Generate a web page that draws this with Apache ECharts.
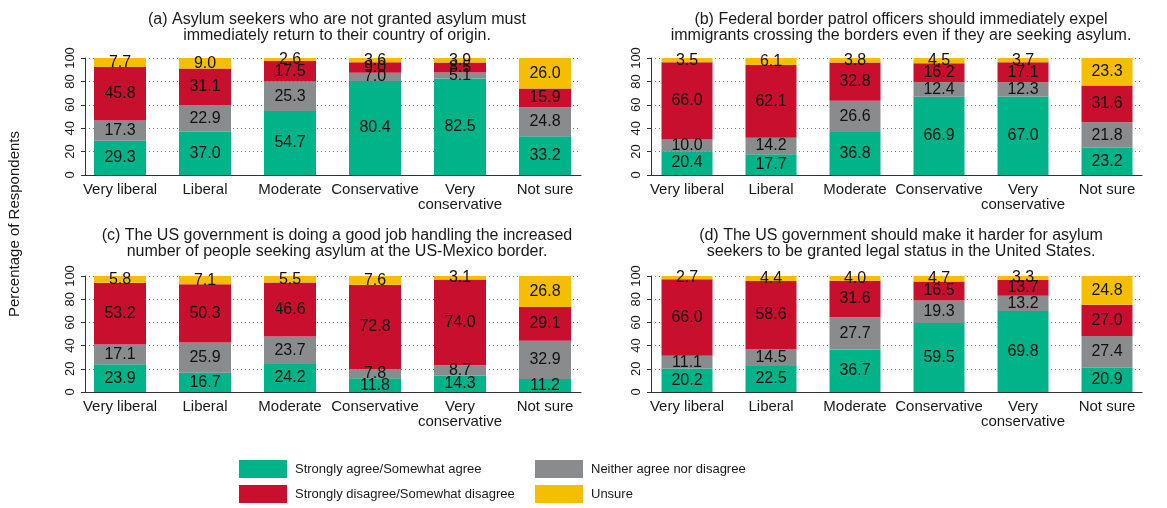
<!DOCTYPE html>
<html>
<head>
<meta charset="utf-8">
<script src="https://cdn.jsdelivr.net/npm/echarts@6/dist/echarts.min.js"></script>
<style>html,body{margin:0;padding:0;background:#fff}#c{width:1167px;height:508px}</style>
</head>
<body>
<div id="c"></div>
<script>
const categories = ['Very liberal','Liberal','Moderate','Conservative','Very\nconservative','Not sure'];
const seriesNames = ['Strongly agree/Somewhat agree','Neither agree nor disagree','Strongly disagree/Somewhat disagree','Unsure'];
const colors = ['#00B388','#898B8D','#C8102E','#F5BE00'];
const yTicks = [0,20,40,60,80,100];

const titleA = '(a) Asylum seekers who are not granted asylum must\nimmediately return to their country of origin.';
const agreeA    = [29.3,37.0,54.7,80.4,82.5,33.2];
const neitherA  = [17.3,22.9,25.3,7.0,5.1,24.8];
const disagreeA = [45.8,31.1,17.5,9.0,8.5,15.9];
const unsureA   = [7.7,9.0,2.6,3.6,3.9,26.0];

const titleB = '(b) Federal border patrol officers should immediately expel\nimmigrants crossing the borders even if they are seeking asylum.';
const agreeB    = [20.4,17.7,36.8,66.9,67.0,23.2];
const neitherB  = [10.0,14.2,26.6,12.4,12.3,21.8];
const disagreeB = [66.0,62.1,32.8,16.2,17.1,31.6];
const unsureB   = [3.5,6.1,3.8,4.5,3.7,23.3];

const titleC = '(c) The US government is doing a good job handling the increased\nnumber of people seeking asylum at the US-Mexico border.';
const agreeC    = [23.9,16.7,24.2,11.8,14.3,11.2];
const neitherC  = [17.1,25.9,23.7,7.8,8.7,32.9];
const disagreeC = [53.2,50.3,46.6,72.8,74.0,29.1];
const unsureC   = [5.8,7.1,5.5,7.6,3.1,26.8];

const titleD = '(d) The US government should make it harder for asylum\nseekers to be granted legal status in the United States.';
const agreeD    = [20.2,22.5,36.7,59.5,69.8,20.9];
const neitherD  = [11.1,14.5,27.7,19.3,13.2,27.4];
const disagreeD = [66.0,58.6,31.6,16.5,13.7,27.0];
const unsureD   = [2.7,4.4,4.0,4.7,3.3,24.8];

const FONT = '"Liberation Sans", Arial, Helvetica, sans-serif';

const panels = [
  {title:titleA, data:[agreeA,neitherA,disagreeA,unsureA], axL:85, axR:581, c0:120, step:85, top:58, h:117, bw:52, tTop:7, tX:332},
  {title:titleB, data:[agreeB,neitherB,disagreeB,unsureB], axL:651, axR:1142, c0:687, step:84, top:58, h:117, bw:51, tTop:7, tX:896},
  {title:titleC, data:[agreeC,neitherC,disagreeC,unsureC], axL:85, axR:581, c0:120, step:85, top:276, h:116, bw:52, tTop:223, tX:332},
  {title:titleD, data:[agreeD,neitherD,disagreeD,unsureD], axL:651, axR:1142, c0:687, step:84, top:276, h:116, bw:51, tTop:223, tX:896}
];

const grid=[], xAxis=[], yAxis=[], series=[], title=[];
panels.forEach((p,k)=>{
  grid.push({left:p.axL, width:p.axR-p.axL, top:p.top, height:p.h, containLabel:false});
  title.push({text:p.title, left:p.tX, top:p.tTop, textAlign:'center',
    textStyle:{fontFamily:FONT, fontSize:16, fontWeight:'normal', color:'#1a1a1a', lineHeight:16}});
  xAxis.push({type:'value', gridIndex:k,
    min:(p.axL-p.c0)/p.step, max:5+(p.axR-(p.c0+5*p.step))/p.step,
    splitLine:{show:false}, axisTick:{show:false},
    axisLine:{show:true, onZero:false, lineStyle:{color:'#333', width:1}},
    axisLabel:{customValues:[0,1,2,3,4,5], formatter:v=>categories[Math.round(v)],
      fontFamily:FONT, fontSize:15, color:'#1a1a1a', margin:7, lineHeight:15,
      showMinLabel:true, showMaxLabel:true, hideOverlap:false}
  });
  yAxis.push({type:'value', gridIndex:k, min:0, max:100, interval:20,
    axisLine:{show:true, onZero:false, lineStyle:{color:'#333', width:1}},
    axisTick:{show:true, length:4, lineStyle:{color:'#333'}},
    axisLabel:{rotate:90, fontFamily:FONT, fontSize:13, color:'#1a1a1a', margin:8},
    splitLine:{show:true, lineStyle:{color:'#777', type:[1,3], width:1}}
  });
  p.data.forEach((arr,j)=>{
    series.push({type:'bar', name:seriesNames[j], xAxisIndex:k, yAxisIndex:k, stack:'s'+k,
      barWidth:p.bw, itemStyle:{color:colors[j]},
      data:arr.map((v,i)=>[v,i]),
      encode:{x:1, y:0},
      label:{show:true, position:'inside', formatter:pr=>pr.value[0].toFixed(1),
        fontFamily:FONT, fontSize:16, color:'#111'}
    });
  });
});

function legendItem(name, left, top){
  return {left, top, padding:0, data:[name], itemWidth:48, itemHeight:18, icon:'rect', selectedMode:false,
    textStyle:{fontFamily:FONT, fontSize:13, color:'#1a1a1a', padding:[0,0,0,3]}};
}

const chart = echarts.init(document.getElementById('c'), null, {renderer:'canvas'});
chart.setOption({
  animation:false,
  backgroundColor:'#fff',
  title, grid, xAxis, yAxis, series,
  legend:[
    legendItem(seriesNames[0], 239, 460),
    legendItem(seriesNames[2], 239, 485),
    legendItem(seriesNames[1], 535, 460),
    legendItem(seriesNames[3], 535, 485)
  ],
  graphic:[{type:'text', x:15, y:224, rotation:Math.PI/2,
    style:{text:'Percentage of Respondents', fontFamily:FONT, fontSize:15, fill:'#1a1a1a', align:'center', verticalAlign:'middle'}}]
});
</script>
</body>
</html>
